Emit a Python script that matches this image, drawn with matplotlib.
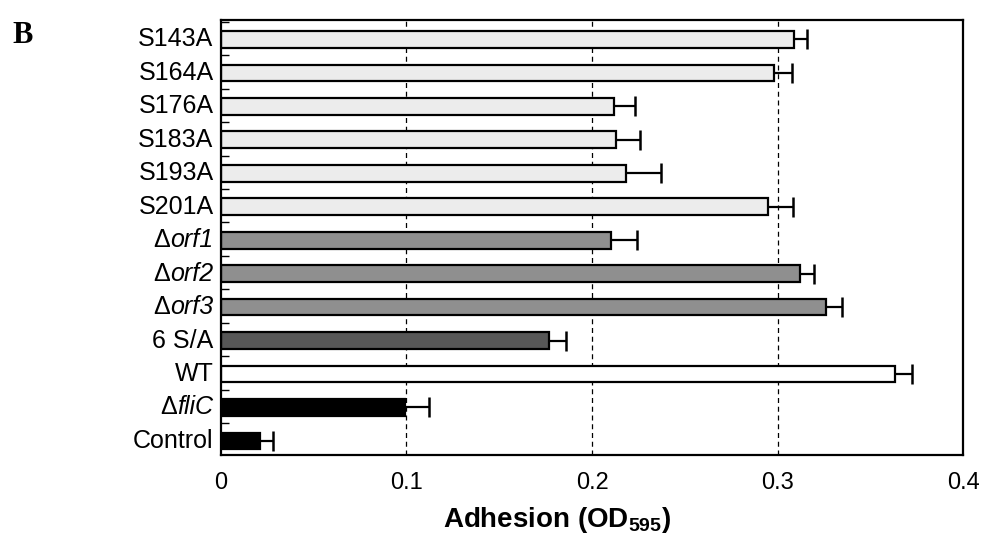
import numpy as np
import matplotlib.pyplot as plt
from matplotlib.ticker import FixedLocator
from matplotlib.offsetbox import TextArea, HPacker, AnnotationBbox

# strains from top to bottom; (prefix, italic part)
labels = [('', 'S143A'), ('', 'S164A'), ('', 'S176A'), ('', 'S183A'),
          ('', 'S193A'), ('', 'S201A'), ('Δ', 'orf1'), ('Δ', 'orf2'),
          ('Δ', 'orf3'), ('', '6 S/A'), ('', 'WT'), ('Δ', 'fliC'), ('', 'Control')]
adhesion = [0.309, 0.298, 0.212, 0.213, 0.218, 0.295,
            0.210, 0.312, 0.326, 0.177, 0.363, 0.099, 0.021]
err = [0.007, 0.0095, 0.011, 0.013, 0.019, 0.013,
       0.014, 0.0075, 0.0085, 0.009, 0.0095, 0.013, 0.007]
colors = ['#ececec'] * 6 + ['#8f8f8f'] * 3 + ['#575757', '#ffffff', '#000000', '#000000']

plt.rcParams['font.family'] = ['Liberation Sans', 'DejaVu Sans']
plt.rcParams['mathtext.fontset'] = 'custom'
plt.rcParams['mathtext.rm'] = 'Liberation Sans'
plt.rcParams['mathtext.it'] = 'Liberation Sans:italic'
plt.rcParams['mathtext.bf'] = 'Liberation Sans:bold'

fig = plt.figure(figsize=(9.86, 5.41), dpi=100)
ax = fig.add_axes([0.224, 0.159, 0.753, 0.804])

y = np.arange(len(labels))
yc = y + 0.08
adh = np.array(adhesion)
e = np.array(err)
for xv in [0.1, 0.2, 0.3]:
    ax.axvline(xv, color='black', ls=(0, (4, 3)), lw=0.9, zorder=0)

ax.barh(yc, adh, height=0.5, color=colors, edgecolor='black',
        linewidth=1.6, zorder=2)
# one-sided error bars: line from bar end plus a cap on the right only
ax.hlines(yc, adh, adh + e, color='black', lw=1.6, zorder=3)
ax.plot(adh + e, yc, ls='none', marker='|', markersize=14, mew=1.8,
        color='black', zorder=3)

ax.set_xlim(0, 0.4)
ax.set_ylim(len(labels) - 0.5, -0.5)
ax.set_xticks([0, 0.1, 0.2, 0.3, 0.4])
ax.set_xticklabels(['0', '0.1', '0.2', '0.3', '0.4'])
ax.set_yticks([])
ax.yaxis.set_minor_locator(FixedLocator(y - 0.45))
ax.tick_params(axis='y', which='minor', length=6, width=1, direction='in')
ax.tick_params(axis='x', length=0, labelsize=17, pad=12)
for s in ax.spines.values():
    s.set_linewidth(1.6)

# category labels: upright delta followed by italic gene name
for yi, (pre, name) in zip(yc, labels):
    if pre:
        box = HPacker(children=[TextArea(pre, textprops=dict(fontsize=18)),
                                TextArea(name, textprops=dict(fontsize=18, style='italic'))],
                      sep=0, pad=0, align='baseline')
    else:
        box = TextArea(name, textprops=dict(fontsize=18))
    ab = AnnotationBbox(box, (-0.01, yi), xycoords=ax.get_yaxis_transform(),
                        box_alignment=(1, 0.5), frameon=False, pad=0,
                        annotation_clip=False)
    ax.add_artist(ab)

ax.set_xlabel(r'Adhesion (OD$_{\mathbf{595}}$)', fontsize=20, fontweight='bold')
ax.xaxis.set_label_coords(0.453, -0.115)
fig.text(0.013, 0.962, 'B', fontsize=22, fontweight='bold',
         family='Liberation Serif', va='top', ha='left')

fig.savefig('out.png', dpi=100)
